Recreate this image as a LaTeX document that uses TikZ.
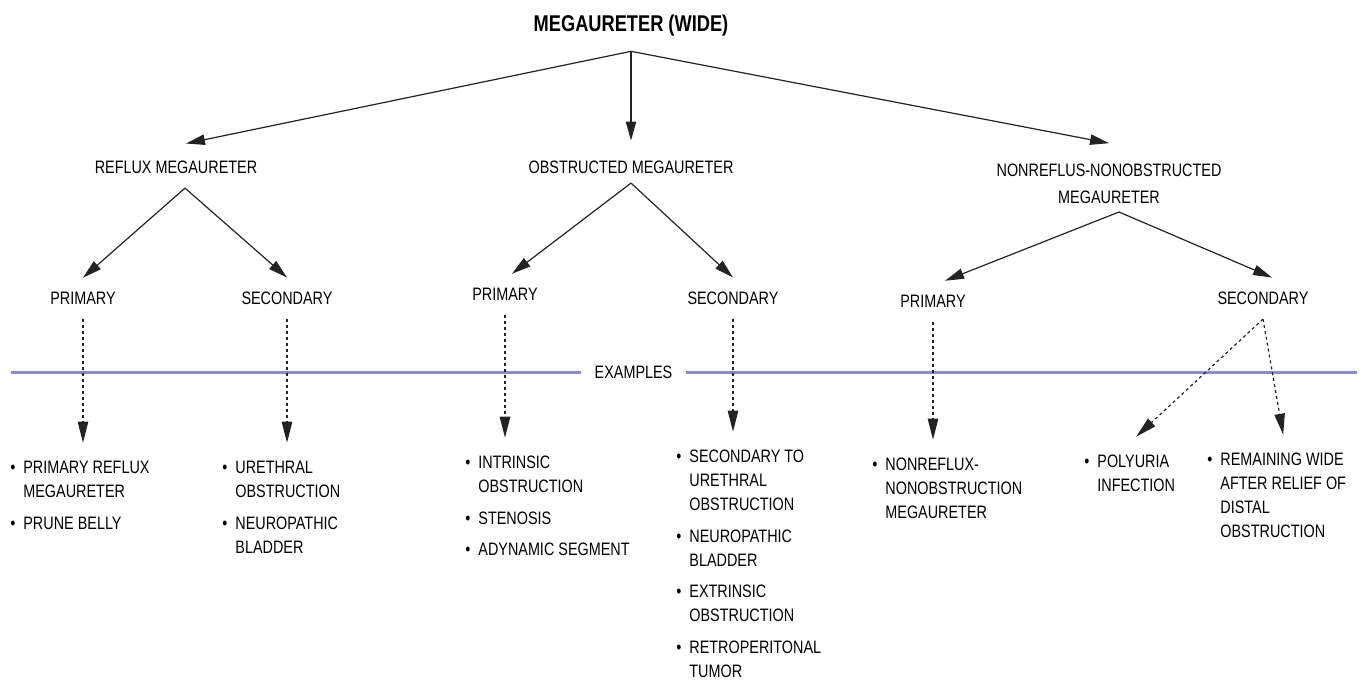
\documentclass[tikz,border=0pt]{standalone}
\usepackage{fontspec}
\setmainfont{Liberation Sans}[FakeStretch=0.8]
\usetikzlibrary{arrows.meta,positioning}

\definecolor{sepblue}{RGB}{140,140,205}
\definecolor{treeline}{RGB}{35,35,35}

\newcommand{\exbul}{\llap{\textbullet\hspace{4pt}}}

\begin{document}
\begin{tikzpicture}[
    x=0.5pt, y=-0.5pt,
    font=\fontsize{9}{12}\selectfont,
    head/.style={font=\fontsize{11.4}{13}\selectfont\bfseries, anchor=base, inner sep=7.5pt},
    kind/.style={anchor=base, inner xsep=2pt, inner ysep=7pt},
    subkind/.style={anchor=base, inner xsep=2pt, inner ysep=7pt},
    exlabel/.style={anchor=base, inner xsep=6.5pt},
    exlist/.style={anchor=base west, inner sep=0pt, outer ysep=7pt},
    tree/.style={-{Triangle[length=9.5pt, width=5.2pt]}, line width=0.6pt, draw=treeline},
    exarrow/.style={tree, -{Triangle[length=10.5pt, width=5.2pt]}, dash pattern=on 1.5pt off 1.5pt},
    sepline/.style={draw=sepblue, line width=1.5pt}
]
\useasboundingbox (0,0) rectangle (1360,680);

% Title and main kinds
\node[head] (title) at (631, 31.2) {MEGAURETER (WIDE)};
\node[kind] (reflux) at (176, 173.5) {REFLUX MEGAURETER};
\node[kind] (obstr) at (631, 173.5) {OBSTRUCTED MEGAURETER};
\node[kind, font=\fontsize{9}{13.5}\selectfont] (nonref) at (1109, 176.5)
    {\begin{tabular}[t]{@{}c@{}}NONREFLUS-NONOBSTRUCTED\\MEGAURETER\end{tabular}};

% Primary / secondary
\node[subkind] (rp) at (83, 304.5) {PRIMARY};
\node[subkind] (rs) at (287, 304.5) {SECONDARY};
\node[subkind] (op) at (505, 300.5) {PRIMARY};
\node[subkind] (os) at (733, 304.5) {SECONDARY};
\node[subkind] (np) at (933, 307.5) {PRIMARY};
\node[subkind] (ns) at (1263, 304.5) {SECONDARY};

% Separator
\node[exlabel] (examples) at (633.5, 378.5) {EXAMPLES};
\coordinate (sepL) at (11, 372);
\coordinate (sepR) at (1357, 372);
\draw[sepline] (sepL) -- (sepL -| examples.west);
\draw[sepline] (examples.east |- sepR) -- (sepR);

% Examples
\node[exlist] (ex1) at (23, 473.5) {\begin{tabular}[t]{@{}l@{}}
    \exbul PRIMARY REFLUX\\ MEGAURETER\\[3.75pt]
    \exbul PRUNE BELLY\end{tabular}};
\node[exlist] (ex2) at (235, 473.5) {\begin{tabular}[t]{@{}l@{}}
    \exbul URETHRAL\\ OBSTRUCTION\\[3.75pt]
    \exbul NEUROPATHIC\\ BLADDER\end{tabular}};
\node[exlist] (ex3) at (478, 468.5) {\begin{tabular}[t]{@{}l@{}}
    \exbul INTRINSIC\\ OBSTRUCTION\\[3.75pt]
    \exbul STENOSIS\\[3.75pt]
    \exbul ADYNAMIC SEGMENT\end{tabular}};
\node[exlist] (ex4) at (689, 462.5) {\begin{tabular}[t]{@{}l@{}}
    \exbul SECONDARY TO\\ URETHRAL\\ OBSTRUCTION\\[3.75pt]
    \exbul NEUROPATHIC\\ BLADDER\\[3.75pt]
    \exbul EXTRINSIC\\ OBSTRUCTION\\[3.75pt]
    \exbul RETROPERITONAL\\ TUMOR\end{tabular}};
\node[exlist] (ex5) at (885, 470.5) {\begin{tabular}[t]{@{}l@{}}
    \exbul NONREFLUX-\\ NONOBSTRUCTION\\ MEGAURETER\end{tabular}};
\node[exlist] (ex6) at (1097, 467.5) {\begin{tabular}[t]{@{}l@{}}
    \exbul POLYURIA\\ INFECTION\end{tabular}};
\node[exlist] (ex7) at (1220, 465.5) {\begin{tabular}[t]{@{}l@{}}
    \exbul REMAINING WIDE\\ AFTER RELIEF OF\\ DISTAL\\ OBSTRUCTION\end{tabular}};

% Junctions
\coordinate (refluxJ) at ([xshift=4.5pt]reflux.south);
\coordinate (obstrJ) at ([yshift=2.5pt]obstr.south);
\coordinate (nonrefJ) at ([xshift=5pt, yshift=7pt]nonref.south);

% Tree arrows
\draw[tree] (title.south) -- ([xshift=5pt, yshift=1.5pt]reflux.north);
\draw[tree] (title.south) -- ([yshift=3pt]obstr.north);
\draw[tree] (title.south) -- (nonref.north);

\draw[tree] (refluxJ) -- (rp.north);
\draw[tree] (refluxJ) -- (rs.north);
\draw[tree] (obstrJ) -- ([xshift=3.5pt]op.north);
\draw[tree] (obstrJ) -- (os.north);
\draw[tree] (nonrefJ) -- ([xshift=6pt]np.north);
\draw[tree] (nonrefJ) -- ([xshift=4.5pt]ns.north);

% Dotted arrows to examples
\draw[exarrow] (rp.south) -- (rp.south |- ex1.north);
\draw[exarrow] (rs.south) -- (rs.south |- ex2.north);
\draw[exarrow] (op.south) -- (op.south |- ex3.north);
\draw[exarrow] (os.south) -- (os.south |- ex4.north);
\draw[exarrow] (np.south) -- (np.south |- ex5.north);
\draw[exarrow] (ns.south) -- (ex6.north);
\draw[exarrow] (ns.south) -- (ex7.north);

\end{tikzpicture}
\end{document}
